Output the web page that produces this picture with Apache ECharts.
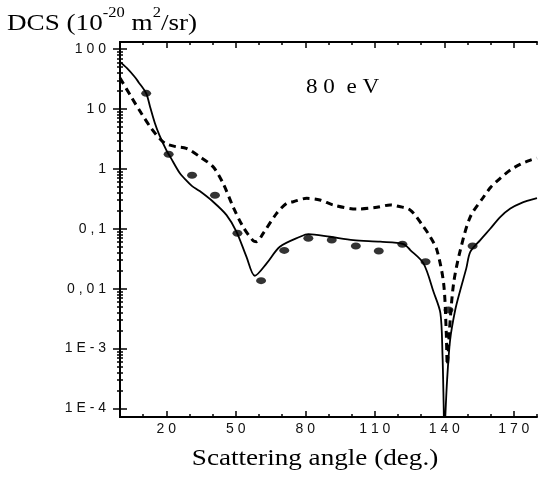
<!DOCTYPE html>
<html>
<head>
<meta charset="utf-8">
<script src="https://cdn.jsdelivr.net/npm/echarts@6/dist/echarts.min.js"></script>
<style>
  html, body { margin: 0; padding: 0; background: #fff; }
  #chart { width: 538px; height: 477px; }
</style>
</head>
<body>
<div id="chart"></div>
<script>
// Theory, solid line (angle in deg, DCS in 1e-20 m2/sr)
const solidAngle = [0, 3, 6.3, 8, 11.3, 13, 15, 17, 20, 22, 25.7, 28.6, 31, 34.4, 40.2, 46, 50.3, 54.6, 58.2, 63.3, 69,
  77.7, 81.3, 90.6, 100.7, 112.3, 122.4, 125.3, 131, 135.4, 138.3, 139.2, 139.7, 140, 140.4, 141.2, 142.5, 144.7, 146.9,
  149.5, 151.2, 155.5, 159.8, 164.2, 168.5, 172.9, 180];
const solidDCS = [61, 48, 34.5, 28, 18.2, 10.8, 5.9, 3.66, 2.06, 1.51, 0.86, 0.64, 0.52, 0.425, 0.282, 0.169, 0.089, 0.034,
  0.0164, 0.0264, 0.05, 0.0735, 0.0815, 0.0735, 0.0647, 0.0607, 0.0556, 0.0441, 0.0264, 0.0087, 0.0039, 0.0008, 0.00012,
  0.00003, 0.00007, 0.0003, 0.0014, 0.0044, 0.0095, 0.022, 0.041, 0.0647, 0.10, 0.158, 0.217, 0.266, 0.323];

// Theory, dashed line
const dashAngle = [0, 4.8, 9.2, 13.5, 17.8, 20, 24, 28.6, 34.4, 40.2, 44.5, 48.8, 53.1, 57.5, 58.9, 61.8, 67.6, 71.9, 74.8,
  80.6, 86.3, 92.1, 102.2, 110.9, 116.6, 119.5, 125.3, 131, 133.9, 136.8, 139.7, 140.8, 141.3, 142.2, 144, 146.9, 151.2,
  157, 160.1, 164.2, 168.5, 172.9, 177.2, 180];
const dashDCS = [32.8, 16, 8.45, 4.74, 3.0, 2.6, 2.35, 2.2, 1.6, 1.08, 0.573, 0.233, 0.108, 0.063, 0.0607, 0.0838, 0.181,
  0.265, 0.283, 0.322, 0.302, 0.249, 0.213, 0.228, 0.249, 0.239, 0.205, 0.108, 0.0735, 0.044, 0.0122, 0.002, 0.00053,
  0.002, 0.0122, 0.044, 0.158, 0.342, 0.497, 0.70, 0.955, 1.2, 1.4, 1.51];

// Experiment, dots
const expAngle = [11.3, 21, 31.1, 41, 50.7, 60.9, 70.9, 81.3, 91.4, 101.8, 111.7, 121.9, 131.9, 141.8, 152.2];
const expDCS = [18.2, 1.75, 0.78, 0.361, 0.0838, 0.0136, 0.0435, 0.0692, 0.0648, 0.0514, 0.0424, 0.055, 0.0281, 0.0044, 0.0514];

// Axes
const xMajorTicks = [20, 50, 80, 110, 140, 170];
const xTickLabels = ['2 0', '5 0', '8 0', '1 1 0', '1 4 0', '1 7 0'];
const xMinorTicks = [10, 30, 40, 60, 70, 90, 100, 120, 130, 150, 160, 180];
const yMajorTicks = [1e-4, 1e-3, 0.01, 0.1, 1, 10, 100];
const yTickLabels = ['1 E - 4', '1 E - 3', '0 , 0 1', '0 , 1', '1', '1 0', '1 0 0'];
const yMinorMult = [2, 3, 4, 5, 6, 7, 8, 9];
const yMin = 7.2e-5;
const yMax = 131;

const yMinorTicks = [];
yMajorTicks.forEach(d => yMinorMult.forEach(m => { if (d * m < yMax) yMinorTicks.push(d * m); }));

const zip = (xs, ys) => xs.map((x, i) => [x, ys[i]]);

const black = '#000';
const tickFont = { fontFamily: 'Liberation Sans', fontWeight: 'normal', fontSize: 14, color: '#111' };
const axisLine = { show: true, lineStyle: { color: black, width: 2 } };
const noLine = { show: false };

function xAxisDef(position, ticks, length, withLabels) {
  return {
    type: 'value', min: 0, max: 180, position,
    axisLine: withLabels !== null ? axisLine : noLine,
    splitLine: { show: false },
    axisTick: { show: true, inside: true, length, customValues: ticks, lineStyle: { color: black, width: 1.5 } },
    axisLabel: withLabels ? {
      customValues: ticks, margin: 5, ...tickFont,
      formatter: v => xTickLabels[xMajorTicks.indexOf(v)] || ''
    } : { show: false }
  };
}

function yAxisDef(position, ticks, length, withLabels) {
  return {
    type: 'log', logBase: 10, min: yMin, max: yMax, position,
    axisLine: withLabels !== null ? axisLine : noLine,
    splitLine: { show: false },
    minorTick: { show: false },
    axisTick: { show: true, inside: true, length, customValues: ticks, lineStyle: { color: black, width: 1.5 } },
    axisLabel: withLabels ? {
      customValues: ticks, margin: 14, ...tickFont,
      formatter: v => {
        const i = yMajorTicks.findIndex(t => Math.abs(Math.log10(t) - Math.log10(v)) < 0.01);
        return i >= 0 ? yTickLabels[i] : '';
      }
    } : { show: false }
  };
}

// the scanned figure's serif text is wider than Liberation Serif, hence scaleX
const serif = (size) => ({
  fontFamily: 'Liberation Serif', fontSize: size, fontWeight: 'normal',
  fill: black, stroke: 'transparent', lineWidth: 0
});

const chart = echarts.init(document.getElementById('chart'));
chart.setOption({
  animation: false,
  backgroundColor: '#fff',
  grid: { left: 120, right: 1, top: 42, bottom: 60, containLabel: false },
  graphic: [
    {
      type: 'text', x: 7, y: 6, scaleX: 1.18,
      style: {
        text: '{a|DCS (10}{s|-20}{a| m}{s|2}{a|/sr)}',
        ...serif(23),
        rich: {
          a: { ...serif(23), lineHeight: 29, verticalAlign: 'bottom' },
          s: { ...serif(14), lineHeight: 16, verticalAlign: 'top' }
        }
      }
    },
    {
      type: 'text', x: 306, y: 77, scaleX: 1.1,
      style: { text: '8 0  e V', ...serif(21) }
    },
    {
      type: 'text', x: 315, y: 447, scaleX: 1.18,
      style: { text: 'Scattering angle (deg.)', ...serif(23), align: 'center', verticalAlign: 'top' }
    }
  ],
  xAxis: [
    xAxisDef('bottom', xMajorTicks, 6, true),
    xAxisDef('bottom', xMinorTicks, 3, null),
    xAxisDef('top', xMajorTicks, 6, false),
    xAxisDef('top', xMinorTicks, 3, null)
  ],
  yAxis: [
    yAxisDef('left', yMajorTicks, 7, true),
    yAxisDef('left', yMinorTicks, 3, null),
    yAxisDef('right', yMajorTicks, 7, false),
    yAxisDef('right', yMinorTicks, 3, null)
  ],
  series: [
    {
      type: 'line', name: 'solid', data: zip(solidAngle, solidDCS),
      showSymbol: false, smooth: 0.3, clip: true,
      lineStyle: { color: black, width: 1.8 }
    },
    {
      type: 'line', name: 'dashed', data: zip(dashAngle, dashDCS),
      showSymbol: false, smooth: 0.3, clip: true,
      lineStyle: { color: black, width: 3, type: [7, 5] }
    },
    {
      type: 'scatter', name: 'exp', data: zip(expAngle, expDCS),
      symbol: 'circle', symbolSize: [10, 7],
      itemStyle: { color: black }
    }
  ]
});
</script>
</body>
</html>
